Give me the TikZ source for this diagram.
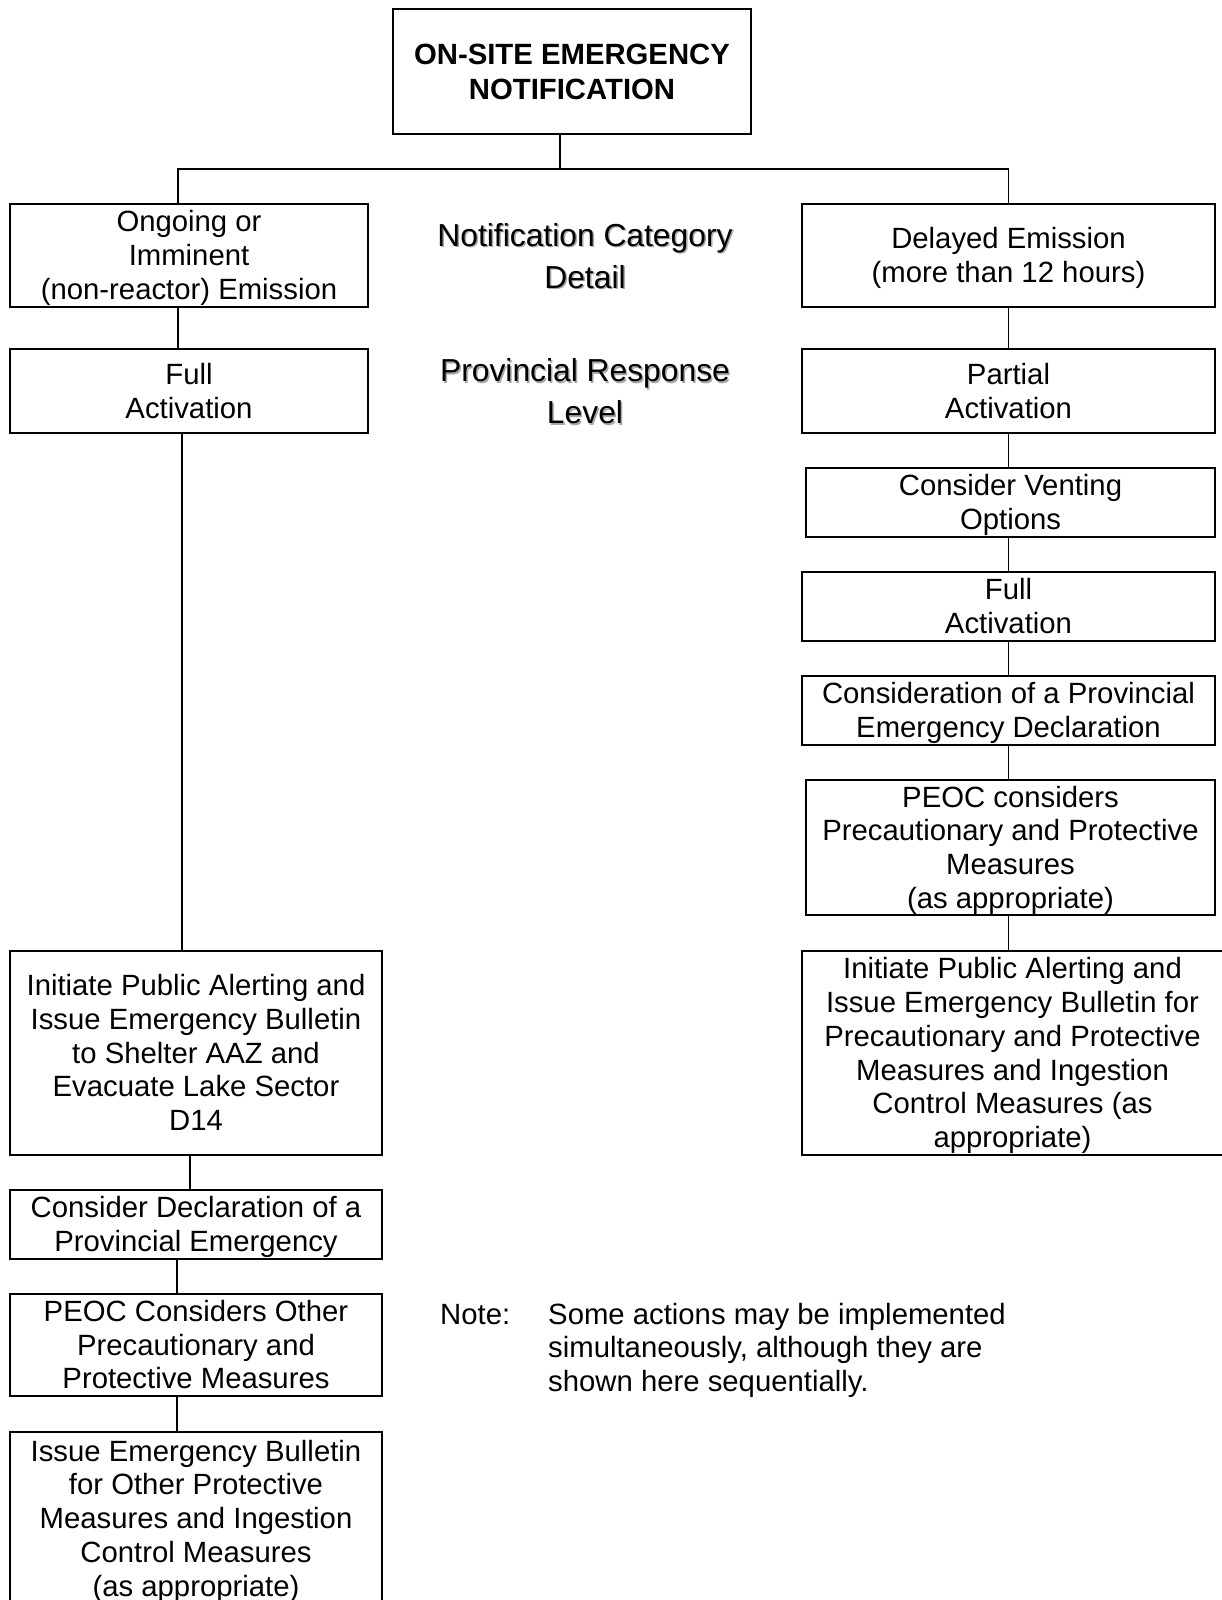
\documentclass[tikz,border=0pt]{standalone}
\usepackage{fontspec}
\setmainfont{Liberation Sans}
\newcommand\fs{\rule[-0.212em]{0pt}{1.117em}}
\newcommand\bx[7][]{%
  \pgfmathsetmacro\bxw{#5-#3}\pgfmathsetmacro\bxh{#6-#4}%
  \pgfmathsetmacro\bxcx{(#3+#5)/2}\pgfmathsetmacro\bxcy{(#4+#6)/2}%
  \node[boxst,#1,minimum width=\bxw pt,minimum height=\bxh pt] (#2) at (\bxcx,\bxcy) {\fs#7\fs};}
\tikzset{
  boxst/.style={draw, line width=1.9pt, inner sep=0pt, align=center,
    font=\fontsize{29.3}{33.7}\selectfont},
  conn/.style={line width=1.4pt},
  headst/.style={inner sep=0pt, align=center, font=\fontsize{31.8}{42}\selectfont},
  notest/.style={inner sep=0pt, align=left, font=\fontsize{29.3}{33.7}\selectfont}
}
\begin{document}
\begin{tikzpicture}[x=1pt,y=-1pt]
\useasboundingbox (0,0) rectangle (1221,1600);
% top
\bx[line width=2.2pt,font=\fontsize{29.3}{35}\selectfont\bfseries]{top}{393}{9}{751}{134}{ON-SITE EMERGENCY\\NOTIFICATION}
% left column
\bx{l1}{10}{204}{368}{307}{Ongoing or\\Imminent\\(non-reactor) Emission}
\bx{l2}{10}{349}{368}{433}{Full\\Activation}
\bx{l3}{10}{951}{382}{1155}{Initiate Public Alerting and\\Issue Emergency Bulletin\\to Shelter AAZ and\\Evacuate Lake Sector\\D14}
\bx{l4}{10}{1190}{382}{1259}{Consider Declaration of a\\Provincial Emergency}
\bx{l5}{10}{1294}{382}{1396}{PEOC Considers Other\\Precautionary and\\Protective Measures}
\bx{l6}{10}{1432}{382}{1605}{Issue Emergency Bulletin\\for Other Protective\\Measures and Ingestion\\Control Measures\\(as appropriate)}
% right column
\bx{r1}{802}{204}{1215}{307}{Delayed Emission\\(more than 12 hours)}
\bx{r2}{802}{349}{1215}{433}{Partial\\Activation}
\bx{r3}{806}{468}{1215}{537}{Consider Venting\\Options}
\bx{r4}{802}{572}{1215}{641}{Full\\Activation}
\bx{r5}{802}{676}{1215}{745}{Consideration of a Provincial\\Emergency Declaration}
\bx{r6}{806}{780}{1215}{915}{PEOC considers\\Precautionary and Protective\\Measures\\(as appropriate)}
\bx{r7}{802}{951}{1223}{1155}{Initiate Public Alerting and\\Issue Emergency Bulletin for\\Precautionary and Protective\\Measures and Ingestion\\Control Measures (as\\appropriate)}
% middle headings with shadow
\node[headst, text=black!35] (h1s) at (586.5,257.5) {\fs Notification Category\\Detail\fs};
\node[headst] (h1) at (585,256) {\fs Notification Category\\Detail\fs};
\node[headst, text=black!35] (h2s) at (586.5,393) {\fs Provincial Response\\Level\fs};
\node[headst] (h2) at (585,391.5) {\fs Provincial Response\\Level\fs};
% note
\node[notest, anchor=base west] (notelab) at (440,1324) {Note:};
\node[notest, anchor=base west] (notetxt) at (548,1391.4) {Some actions may be implemented\\simultaneously, although they are\\shown here sequentially.};
% connectors
\coordinate (bar) at (560,169);
\coordinate (rx) at (1008.5,0);
\draw[conn] ([xshift=-12]top.south) -- (bar);
\draw[conn] ([xshift=-11]l1.north) |- (bar) -| (r1.north -| rx);
\draw[conn] ([xshift=-11]l1.south) -- ([xshift=-11]l2.north);
\draw[conn] ([xshift=-7]l2.south) -- ([xshift=-14]l3.north);
\draw[conn] ([xshift=-6]l3.south) -- ([xshift=-6]l4.north);
\draw[conn] ([xshift=-19]l4.south) -- ([xshift=-19]l5.north);
\draw[conn] ([xshift=-19]l5.south) -- ([xshift=-19]l6.north);
\draw[conn] (r1.south -| rx) -- (r2.north -| rx);
\draw[conn] (r2.south -| rx) -- (r3.north -| rx);
\draw[conn] (r3.south -| rx) -- (r4.north -| rx);
\draw[conn] (r4.south -| rx) -- (r5.north -| rx);
\draw[conn] (r5.south -| rx) -- (r6.north -| rx);
\draw[conn] (r6.south -| rx) -- (r7.north -| rx);
\end{tikzpicture}
\end{document}
